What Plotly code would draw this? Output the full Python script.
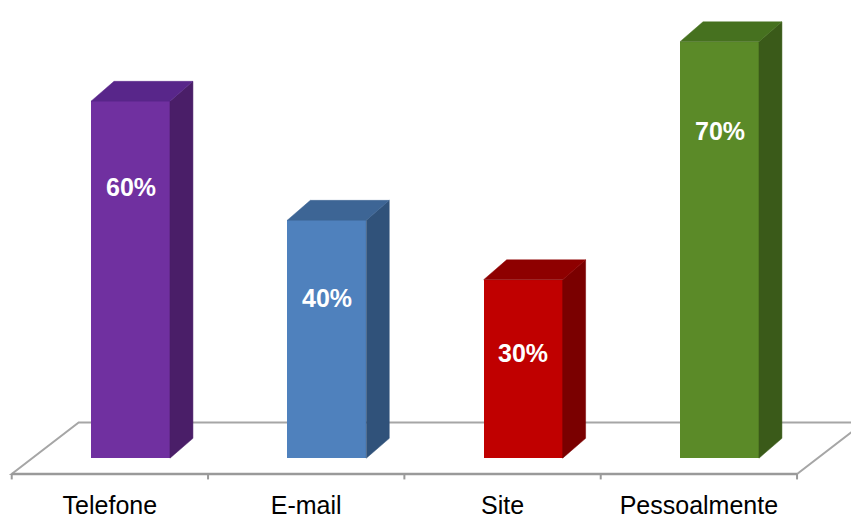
import plotly.graph_objects as go

# Chart data
categories = ["Telefone", "E-mail", "Site", "Pessoalmente"]
values = [60, 40, 30, 70]
value_labels = ["60%", "40%", "30%", "70%"]

# Face colours per bar: front, side, top
front_colors = ["#7030A0", "#4F81BD", "#C00000", "#5B8A28"]
side_colors = ["#4A1E68", "#30527A", "#7A0000", "#3A5A19"]
top_colors = ["#58268A", "#3D6595", "#8E0000", "#46711F"]

# Pseudo-3D geometry in axis units
BAR_W = 0.402          # front face width
BAR_DX, BAR_DY = 0.117, 3.33     # bar depth projection
FLOOR_FX, FLOOR_FY = 0.105, 2.67  # floor front edge offset from bar fronts
FLOOR_DX, FLOOR_DY = 0.341, 8.67  # floor depth projection

fig = go.Figure()
n = len(categories)

# Floor parallelogram (as a shape so it sits beneath the bars)
fl = (-0.5 - FLOOR_FX, -FLOOR_FY)
fr = (n - 0.5 - FLOOR_FX, -FLOOR_FY)
br = (fr[0] + FLOOR_DX, fr[1] + FLOOR_DY)
bl = (fl[0] + FLOOR_DX, fl[1] + FLOOR_DY)
floor_path = (f"M {fl[0]},{fl[1]} L {fr[0]},{fr[1]} L {br[0]},{br[1]} "
              f"L {bl[0]},{bl[1]} Z")
fig.add_shape(type="path", path=floor_path, xref="x", yref="y",
              fillcolor="white", line=dict(color="#A6A6A6", width=2),
              layer="below")
# Floor front edge, slightly heavier
fig.add_shape(type="line", x0=fl[0], y0=fl[1], x1=fr[0], y1=fr[1],
              xref="x", yref="y", line=dict(color="#9A9A9A", width=2.5),
              layer="below")
# Category boundary ticks along the front edge
for k in range(n + 1):
    x0 = fl[0] + k
    fig.add_shape(type="line", x0=x0, y0=fl[1], x1=x0, y1=fl[1] - 0.9,
                  xref="x", yref="y", line=dict(color="#9A9A9A", width=2),
                  layer="below")

# Front faces
fig.add_trace(go.Bar(
    x=list(range(n)), y=values, width=BAR_W,
    marker=dict(color=front_colors, line=dict(width=0)),
    hoverinfo="skip", showlegend=False,
))

hw = BAR_W / 2
for i, v in enumerate(values):
    # side face
    fig.add_trace(go.Scatter(
        x=[i + hw, i + hw + BAR_DX, i + hw + BAR_DX, i + hw, i + hw],
        y=[0, BAR_DY, v + BAR_DY, v, 0],
        mode="lines", fill="toself", fillcolor=side_colors[i],
        line=dict(color=side_colors[i], width=0.5),
        hoverinfo="skip", showlegend=False,
    ))
    # top face
    fig.add_trace(go.Scatter(
        x=[i - hw, i - hw + BAR_DX, i + hw + BAR_DX, i + hw, i - hw],
        y=[v, v + BAR_DY, v + BAR_DY, v, v],
        mode="lines", fill="toself", fillcolor=top_colors[i],
        line=dict(color=top_colors[i], width=0.5),
        hoverinfo="skip", showlegend=False,
    ))

# Value labels on the front faces
for i, (v, t) in enumerate(zip(values, value_labels)):
    fig.add_annotation(
        x=i, y=v * 0.931 - 10.25, text=t, showarrow=False,
        font=dict(family="Liberation Sans, Arial, sans-serif", size=25,
                  color="white", weight="bold"),
    )

fig.update_layout(
    width=851, height=519,
    margin=dict(l=0, r=0, t=0, b=35),
    paper_bgcolor="white", plot_bgcolor="white",
    bargap=0,
    xaxis=dict(
        range=[-0.6647, 3.6698], showgrid=False, zeroline=False,
        showline=False, ticks="", ticklabelstandoff=8,
        tickvals=[i - FLOOR_FX for i in range(n)], ticktext=categories,
        tickfont=dict(family="Liberation Sans, Arial, sans-serif", size=25,
                      color="black"),
        fixedrange=True,
    ),
    yaxis=dict(
        range=[-3.667, 77], showgrid=False, zeroline=False,
        showline=False, showticklabels=False, fixedrange=True,
    ),
)

fig.write_html("out.html")
